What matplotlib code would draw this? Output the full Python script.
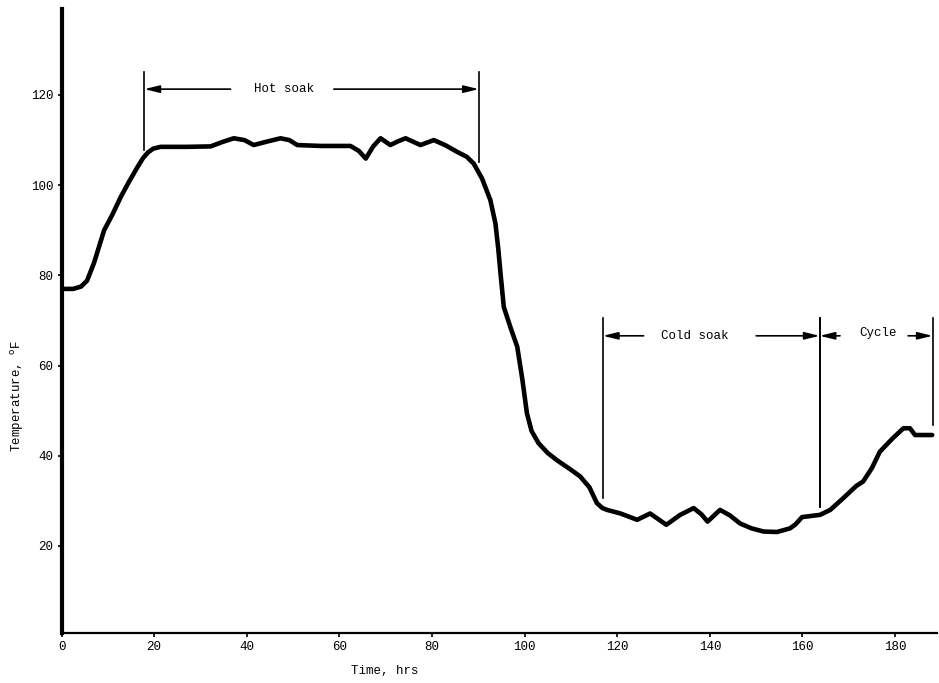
import matplotlib.pyplot as plt

# temperature trace (hours, deg F)
time_hrs = [0, 2.5, 4.2, 5.5, 7.0, 9.2, 11.0, 12.8, 14.6, 16.4, 17.6, 18.6,
            19.8, 21.4, 27, 32.2, 34.8, 37.2, 39.5, 41.5, 44.5, 47.3, 49.2,
            50.9, 56, 62.4, 64.2, 65.7, 67.3, 68.9, 71.0, 72.6, 74.3, 77.5,
            80.4, 83.0, 85.4, 87.5, 89.0, 90.8, 92.6, 93.7, 94.3, 94.8, 95.5,
            97.0, 98.4, 99.5, 100.5, 101.5, 103.0, 105.0, 107.0, 110.0, 112.0,
            114.0, 115.6, 116.8, 117.8, 120.7, 124.3, 127.1, 130.6, 133.6,
            136.5, 138.2, 139.5, 142.2, 144.3, 146.5, 149.0, 151.6, 154.5,
            157.3, 158.5, 159.9, 163.8, 166.0, 168.8, 171.6, 173.1, 175.0,
            176.7, 179.5, 181.8, 183.2, 184.3, 188.0]
temp_f = [77.0, 77.0, 77.5, 78.8, 82.7, 90.0, 93.5, 97.4, 100.8, 104.0,
          106.0, 107.2, 108.1, 108.5, 108.5, 108.6, 109.6, 110.4, 110.0,
          108.9, 109.7, 110.4, 110.0, 108.9, 108.7, 108.7, 107.6, 105.9,
          108.6, 110.4, 108.9, 109.7, 110.4, 108.9, 110.0, 108.8, 107.4,
          106.3, 104.8, 101.5, 96.7, 91.5, 86.0, 80.4, 73.0, 68.3, 64.2,
          57.0, 49.4, 45.5, 42.8, 40.6, 39.0, 36.9, 35.4, 33.0, 29.5, 28.4,
          28.0, 27.2, 25.8, 27.2, 24.7, 26.9, 28.4, 27.0, 25.4, 28.0, 26.8,
          25.0, 23.9, 23.2, 23.1, 23.9, 24.8, 26.4, 26.9, 28.0, 30.6, 33.3,
          34.3, 37.3, 40.9, 43.9, 46.1, 46.1, 44.6, 44.6]

x_ticks = [0, 20, 40, 60, 80, 100, 120, 140, 160, 180]
y_ticks = [20, 40, 60, 80, 100, 120]

# phase brackets: (label, start, end, arrow level, line bottoms)
phases = [
    ("Hot soak", 17.9, 90.1, 121.3, 107.8, 105.2),
    ("Cold soak", 116.9, 163.7, 66.6, 30.6, 28.7),
    ("Cycle", 163.7, 188.1, 66.6, 28.7, 46.8),
]
phase_text_x = [48.0, 136.8, 176.3]
phase_gap = [(36.5, 58.8), (125.7, 150.0), (168.1, 182.8)]
phase_top = [125.2, 70.6, 70.6]

mono = "Liberation Mono"

fig = plt.figure(figsize=(9.39, 6.83), dpi=100)
ax = fig.add_axes([61.5 / 939, 50 / 683, (936.8 - 61.5) / 939, 623.7 / 683])

ax.plot(time_hrs, temp_f, color="black", lw=3.3, solid_capstyle="round",
        solid_joinstyle="round")

for i, (label, t0, t1, level, bot0, bot1) in enumerate(phases):
    top = phase_top[i]
    ax.plot([t0, t0], [bot0, top], color="black", lw=1.2)
    ax.plot([t1, t1], [bot1, top], color="black", lw=1.2)
    g0, g1 = phase_gap[i]
    arrow = dict(arrowstyle="-|>,head_length=0.9,head_width=0.22",
                 color="black", lw=1.2, shrinkA=0, shrinkB=0)
    ax.annotate("", xy=(t0, level), xytext=(g0, level), arrowprops=arrow)
    ax.annotate("", xy=(t1, level), xytext=(g1, level), arrowprops=arrow)
    dy = 0.6 if label == "Cycle" else 0
    ax.text(phase_text_x[i], level + dy, label, family=mono, fontsize=9,
            ha="center", va="center")

ax.set_xlim(0, 189)
ax.set_ylim(0.7, 139)
ax.set_xticks(x_ticks)
ax.set_yticks(y_ticks)
ax.tick_params(direction="out", length=3, width=1.2, labelsize=9, pad=3)
for lab in ax.get_xticklabels() + ax.get_yticklabels():
    lab.set_family(mono)

for side in ["top", "right"]:
    ax.spines[side].set_visible(False)
ax.spines["left"].set_linewidth(3.0)
ax.spines["bottom"].set_linewidth(1.6)

fig.text(385 / 939, 1 - 671 / 683, "Time, hrs", family=mono, fontsize=9,
         ha="center", va="center")
fig.text(18 / 939, 1 - 396 / 683, "Temperature, $^{\\mathrm{o}}$F", family=mono,
         fontsize=9, ha="center", va="center", rotation=90)

fig.savefig("out.png", dpi=100)
